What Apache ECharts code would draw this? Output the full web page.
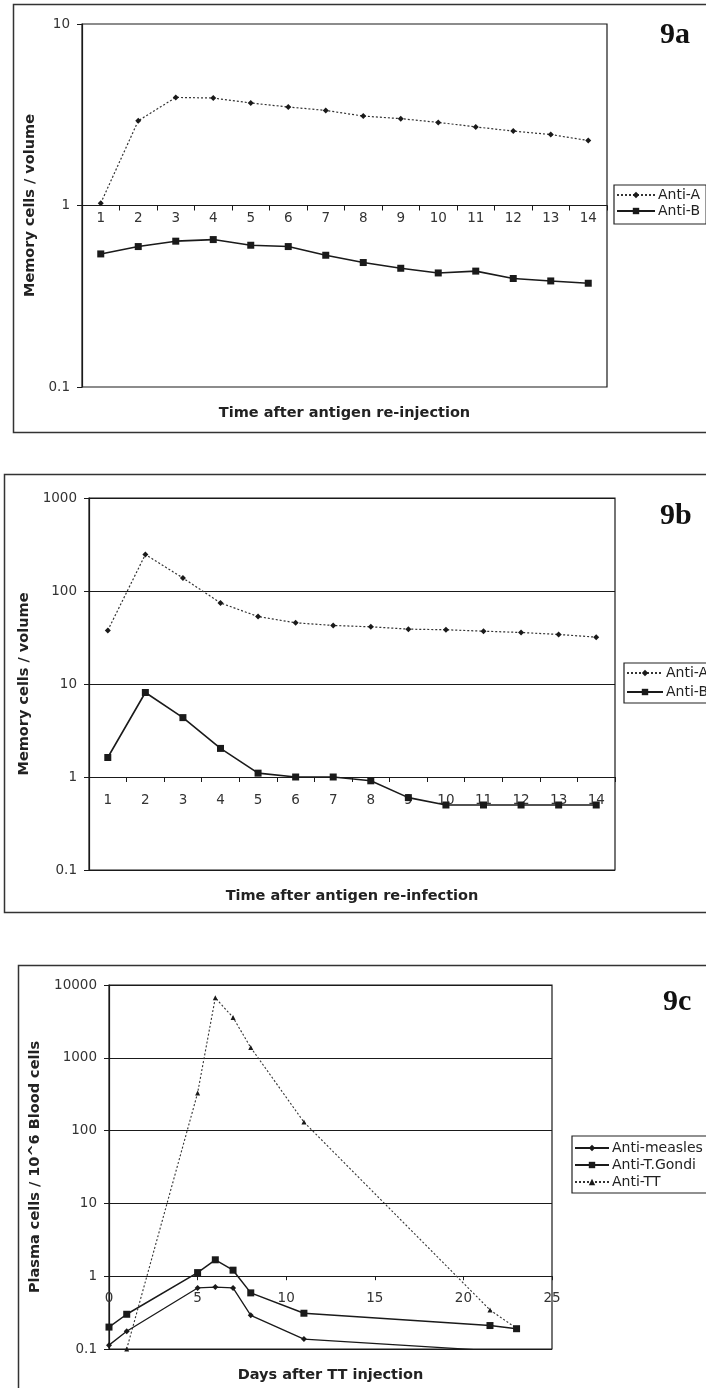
<!DOCTYPE html>
<html>
<head>
<meta charset="utf-8">
<script src="https://cdn.jsdelivr.net/npm/echarts@6/dist/echarts.min.js"></script>
<style>
  html, body { margin: 0; padding: 0; background: #fff; }
  #chart { width: 706px; height: 1388px; }
</style>
</head>
<body>
<div id="chart"></div>
<script>
// ---- Panel 9a: memory cells after antigen re-injection ----
const timeLabels = ['1', '2', '3', '4', '5', '6', '7', '8', '9', '10', '11', '12', '13', '14'];
const antiA9a = [1.03, 2.93, 3.94, 3.91, 3.67, 3.49, 3.34, 3.11, 3.01, 2.87, 2.71, 2.57, 2.46, 2.28];
const antiB9a = [0.541, 0.594, 0.636, 0.649, 0.604, 0.594, 0.532, 0.485, 0.451, 0.425, 0.435, 0.396, 0.384, 0.373];

// ---- Panel 9b: memory cells after antigen re-infection ----
const antiA9b = [37.7, 247, 138, 74.4, 53.1, 45.5, 42.6, 41.2, 38.9, 38.3, 37.0, 35.8, 34.1, 31.9];
const antiB9b = [1.62, 8.1, 4.35, 2.03, 1.1, 1.0, 1.0, 0.91, 0.6, 0.5, 0.5, 0.5, 0.5, 0.5];

// ---- Panel 9c: plasma cells after TT injection ----
const measlesDays = [0, 1, 5, 6, 7, 8, 11, 21.5];
const measlesVals = [0.113, 0.175, 0.69, 0.71, 0.69, 0.29, 0.137, 0.095];
const gondiDays = [0, 1, 5, 6, 7, 8, 11, 21.5, 23];
const gondiVals = [0.2, 0.3, 1.12, 1.68, 1.21, 0.59, 0.31, 0.21, 0.19];
const ttDays = [1, 5, 6, 7, 8, 11, 21.5, 23];
const ttVals = [0.1, 328, 6680, 3580, 1380, 131, 0.344, 0.192];

// axis ranges of the three panels
const yRanges = [[0.1, 10], [0.1, 1000], [0.1, 10000]];

// plot areas
const grids = [
  { left: 82, top: 24, width: 525, height: 363 },
  { left: 89, top: 498, width: 526, height: 372 },
  { left: 109, top: 985, width: 443, height: 364 }
];

const INK = '#1a1a1a';
const LABEL = '#333';
const NAME_STYLE = { fontSize: 14.5, fontWeight: 'bold', color: '#222' };

function pairs(xs, ys) { return xs.map((x, i) => [x, ys[i]]); }

// distance (px) from the bottom of a plot up to the value 1 on its log axis
function liftToOne(i) {
  const [lo, hi] = yRanges[i];
  return grids[i].height * (Math.log10(1) - Math.log10(lo)) / (Math.log10(hi) - Math.log10(lo));
}

function logLabel(v) { return String(+(+v).toPrecision(6)); }

function yAxis(i, name, nameGap, split) {
  return {
    type: 'log', logBase: 10, gridIndex: i,
    min: yRanges[i][0], max: yRanges[i][1],
    name: name, nameLocation: 'middle', nameGap: nameGap,
    nameTextStyle: NAME_STYLE,
    axisLine: { show: true, lineStyle: { color: INK, width: 1.2 } },
    axisTick: { show: true, length: 5, lineStyle: { color: INK } },
    axisLabel: { fontSize: 13.5, color: LABEL, margin: 12, formatter: logLabel },
    splitLine: { show: split, lineStyle: { color: INK, width: 1.2 } },
    minorTick: { show: false }, minorSplitLine: { show: false }
  };
}

function catAxis(i, name, labelMargin) {
  const lift = liftToOne(i);
  return {
    type: 'category', gridIndex: i, data: timeLabels, boundaryGap: true,
    position: 'bottom', offset: -lift,
    name: name, nameLocation: 'middle', nameGap: lift + 19,
    nameTextStyle: NAME_STYLE,
    axisLine: { show: true, onZero: false, lineStyle: { color: INK, width: 1.2 } },
    axisTick: { show: true, alignWithLabel: false, length: 5, lineStyle: { color: INK } },
    axisLabel: { fontSize: 13.5, color: LABEL, margin: labelMargin, interval: 0 },
    splitLine: { show: false }
  };
}

function lineSeries(name, xi, data, symbol, size, dotted, width) {
  return {
    type: 'line', name: name, xAxisIndex: xi, yAxisIndex: xi, data: data,
    symbol: symbol, symbolSize: size, showSymbol: true, clip: true,
    itemStyle: { color: INK },
    lineStyle: { color: dotted ? '#333' : INK, width: width, type: dotted ? [2, 2] : 'solid' },
    emphasis: { disabled: true }, animation: false
  };
}

function legend(names, left, top, iconWidth, gap, padding) {
  return {
    data: names, orient: 'vertical', left: left, top: top,
    itemWidth: iconWidth, itemHeight: 8, itemGap: gap, padding: padding,
    borderColor: '#222', borderWidth: 1.2, backgroundColor: '#fff',
    textStyle: { fontSize: 14, color: '#222', padding: [0, 0, 0, -2] }, selectedMode: false
  };
}

const panelTitle = (text, left, top) => ({
  text: text, left: left, top: top,
  textStyle: { fontFamily: 'Liberation Serif', fontWeight: 'bold', fontSize: 30, color: '#111' }
});

const option = {
  animation: false,
  backgroundColor: '#fff',
  textStyle: { fontFamily: 'DejaVu Sans' },
  title: [
    panelTitle('9a', 655, 15),
    panelTitle('9b', 655, 496),
    panelTitle('9c', 658, 982)
  ],
  graphic: [
    { type: 'rect', shape: { x: 13.5, y: 4.5, width: 760, height: 428 }, style: { fill: 'none', stroke: '#333', lineWidth: 1.5 } },
    { type: 'rect', shape: { x: 4.5, y: 474.5, width: 760, height: 438 }, style: { fill: 'none', stroke: '#333', lineWidth: 1.5 } },
    { type: 'rect', shape: { x: 18.5, y: 965.5, width: 760, height: 460 }, style: { fill: 'none', stroke: '#333', lineWidth: 1.5 } }
  ],
  grid: grids.map(g => Object.assign({
    show: true, borderColor: INK, borderWidth: 1.2, backgroundColor: '#fff',
    containLabel: false, outerBoundsMode: 'none'
  }, g)),
  legend: [
    legend(['Anti-A', 'Anti-B'], 614, 185, 38, 2, [3, 6, 6, 2]),
    legend(['Anti-A', 'Anti-B'], 624, 663, 36, 5, [3, 6, 4, 2]),
    legend(['Anti-measles', 'Anti-T.Gondi', 'Anti-TT'], 572, 1136, 34, 3, [5, 6, 4, 2])
  ],
  xAxis: [
    catAxis(0, 'Time after antigen re-injection', 6),
    catAxis(1, 'Time after antigen re-infection', 16),
    {
      type: 'value', gridIndex: 2, min: 0, max: 25, interval: 5,
      position: 'bottom', offset: -liftToOne(2),
      name: 'Days after TT injection', nameLocation: 'middle', nameGap: liftToOne(2) + 19,
      nameTextStyle: NAME_STYLE,
      axisLine: { show: true, onZero: false, lineStyle: { color: INK, width: 1.2 } },
      axisTick: { show: true, length: 4, lineStyle: { color: INK } },
      axisLabel: { fontSize: 13.5, color: LABEL, margin: 15, showMinLabel: true, showMaxLabel: true },
      splitLine: { show: false }
    }
  ],
  yAxis: [
    yAxis(0, 'Memory cells / volume', 42, false),
    yAxis(1, 'Memory cells / volume', 57, true),
    yAxis(2, 'Plasma cells / 10^6 Blood cells', 63, true)
  ],
  series: [
    lineSeries('Anti-A', 0, antiA9a, 'diamond', 6, true, 1.2),
    lineSeries('Anti-B', 0, antiB9a, 'rect', 7, false, 1.6),
    lineSeries('Anti-A', 1, antiA9b, 'diamond', 6, true, 1.2),
    lineSeries('Anti-B', 1, antiB9b, 'rect', 7, false, 1.6),
    lineSeries('Anti-measles', 2, pairs(measlesDays, measlesVals), 'diamond', 6, false, 1.3),
    lineSeries('Anti-T.Gondi', 2, pairs(gondiDays, gondiVals), 'rect', 7, false, 1.5),
    lineSeries('Anti-TT', 2, pairs(ttDays, ttVals), 'triangle', 5, true, 1.1)
  ]
};

const chart = echarts.init(document.getElementById('chart'), null, { renderer: 'canvas' });
chart.setOption(option);
</script>
</body>
</html>
